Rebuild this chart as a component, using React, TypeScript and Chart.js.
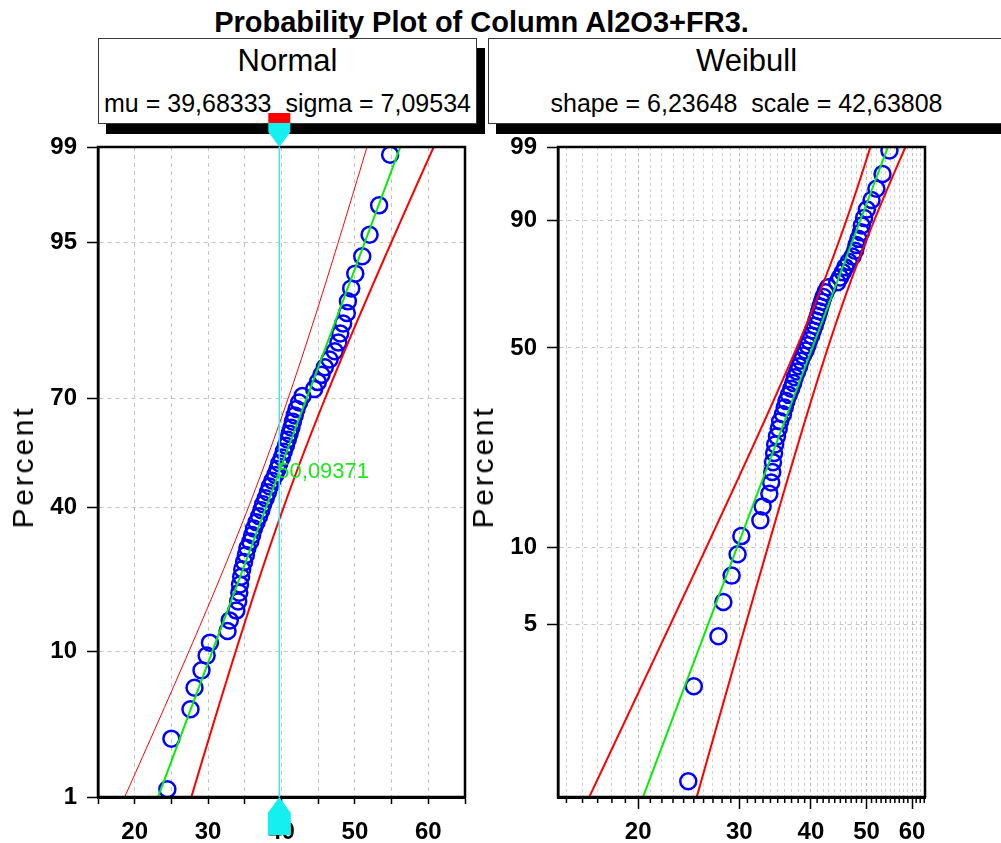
import React, { useEffect, useRef } from "react";
import { Chart, registerables } from "chart.js";

Chart.register(...registerables);

// ---------------- data ----------------
const chartTitle = "Probability Plot of Column Al2O3+FR3.";
const normalPanelTitle = "Normal";
const weibullPanelTitle = "Weibull";
const axisTitle = "Percent";

// sorted sample values
const sampleValues = [
  24.45, 25.0, 27.6, 28.15, 29.1, 29.8, 30.25, 32.65, 32.95, 33.85,
  34.1, 34.25, 34.35, 34.5, 34.65, 34.9, 35.15, 35.35, 35.75, 36.0,
  36.25, 36.6, 36.95, 37.25, 37.5, 37.85, 38.15, 38.4, 38.75, 39.15,
  39.45, 39.7, 40.05, 40.3, 40.6, 40.85, 41.1, 41.35, 41.55, 41.8,
  42.05, 42.4, 42.85, 44.45, 44.95, 45.45, 45.9, 46.55, 47.25, 47.75,
  48.0, 48.4, 48.9, 49.05, 49.5, 50.05, 51.0, 52.0, 53.3, 54.8,
];

const normalMu = 39.68333;
const normalSigma = 7.09534;
const weibullShape = 6.23648;
const weibullScale = 42.63808;
const confidenceK = 2.576; // two-sided 99 %
// asymptotic covariance factors of the extreme-value (log-Weibull) fit
const evVarLoc = 1.1087;
const evCovLocScale = -0.257;
const evVarScale = 0.6079;

const percentRange = [1, 99];
const normalYTickPercents = [1, 10, 40, 70, 95, 99];
const weibullYTickPercents = [5, 10, 50, 90, 99];
const normalXRange = [15, 65];
const normalXTicks = [15, 20, 25, 30, 35, 40, 45, 50, 55, 60, 65];
const weibullXRange = [14.5, 63.2];
const weibullXTicks = [
  15, 16, 17, 18, 19, 20, 21, 22, 23, 24, 25, 26, 27, 28, 29, 30, 31, 32, 33,
  34, 35, 36, 37, 38, 39, 40, 41, 42, 43, 44, 45, 46, 47, 48, 49, 50, 51, 52,
  53, 54, 55, 56, 57, 58, 59, 60, 61, 62, 63,
];
const xTickLabels = [20, 30, 40, 50, 60];

const cursorValue = 39.7;
const cursorPercent = 50.09371;
const cursorLabel = "50,09371";

// ---------------- helpers ----------------
const FONT = "'Liberation Sans', Arial, Helvetica, sans-serif";
const tickFont = { family: FONT, size: 24, weight: "bold" as const };

function normInv(p: number): number {
  const a = [-3.969683028665376e1, 2.209460984245205e2, -2.759285104469687e2, 1.38357751867269e2, -3.066479806614716e1, 2.506628277459239];
  const b = [-5.447609879822406e1, 1.615858368580409e2, -1.556989798598866e2, 6.680131188771972e1, -1.328068155288572e1];
  const c = [-7.784894002430293e-3, -3.223964580411365e-1, -2.400758277161838, -2.549732539343734, 4.374664141464968, 2.938163982698783];
  const d = [7.784695709041462e-3, 3.224671290700398e-1, 2.445134137142996, 3.754408661907416];
  const pl = 0.02425;
  if (p < pl) {
    const q = Math.sqrt(-2 * Math.log(p));
    return (((((c[0] * q + c[1]) * q + c[2]) * q + c[3]) * q + c[4]) * q + c[5]) / ((((d[0] * q + d[1]) * q + d[2]) * q + d[3]) * q + 1);
  }
  if (p > 1 - pl) {
    const q = Math.sqrt(-2 * Math.log(1 - p));
    return -(((((c[0] * q + c[1]) * q + c[2]) * q + c[3]) * q + c[4]) * q + c[5]) / ((((d[0] * q + d[1]) * q + d[2]) * q + d[3]) * q + 1);
  }
  const q = p - 0.5;
  const r = q * q;
  return ((((((a[0] * r + a[1]) * r + a[2]) * r + a[3]) * r + a[4]) * r + a[5]) * q) / (((((b[0] * r + b[1]) * r + b[2]) * r + b[3]) * r + b[4]) * r + 1);
}
const weibullW = (p: number) => Math.log(-Math.log(1 - p));
const medianRank = (i: number, n: number) => (i + 1 - 0.3) / (n + 0.4);
const samples = (a: number, b: number, k = 80) => Array.from({ length: k + 1 }, (_, j) => a + ((b - a) * j) / k);
const fmt = (v: number) => String(v).replace(".", ",");

const framePlugin = {
  id: "frame",
  afterDraw(chart: any) {
    const { ctx, chartArea: a } = chart;
    ctx.save();
    ctx.strokeStyle = "#000";
    ctx.lineWidth = 2.5;
    ctx.strokeRect(a.left, a.top, a.right - a.left, a.bottom - a.top);
    ctx.restore();
  },
};

const cursorPlugin = {
  id: "cursor",
  afterDraw(chart: any) {
    const { ctx, chartArea: a } = chart;
    const px = chart.scales.x.getPixelForValue(cursorValue);
    ctx.save();
    ctx.strokeStyle = "#3ee8e8";
    ctx.lineWidth = 1.5;
    ctx.beginPath();
    ctx.moveTo(px, a.top);
    ctx.lineTo(px, a.bottom);
    ctx.stroke();
    // top marker
    ctx.fillStyle = "#ff0000";
    ctx.fillRect(px - 11, a.top - 34, 22, 10);
    ctx.fillStyle = "#14f0f0";
    ctx.beginPath();
    ctx.moveTo(px - 11, a.top - 24);
    ctx.lineTo(px + 11, a.top - 24);
    ctx.lineTo(px + 11, a.top - 15);
    ctx.lineTo(px, a.top);
    ctx.lineTo(px - 11, a.top - 15);
    ctx.closePath();
    ctx.fill();
    // bottom marker
    ctx.beginPath();
    ctx.moveTo(px, a.bottom);
    ctx.lineTo(px + 11.5, a.bottom + 16);
    ctx.lineTo(px + 11.5, a.bottom + 38);
    ctx.lineTo(px - 11.5, a.bottom + 38);
    ctx.lineTo(px - 11.5, a.bottom + 16);
    ctx.closePath();
    ctx.fill();
    // label
    const py = chart.scales.y.getPixelForValue(normInv(cursorPercent / 100));
    ctx.font = `22px ${FONT}`;
    ctx.fillStyle = "#1ee61e";
    ctx.textAlign = "left";
    ctx.textBaseline = "middle";
    ctx.fillText(cursorLabel, px - 2, py);
    ctx.restore();
  },
};

const minorTickPlugin = {
  id: "minorTicks",
  afterDraw(chart: any) {
    const { ctx, chartArea: a } = chart;
    const xs = chart.scales.x;
    ctx.save();
    ctx.strokeStyle = "#000";
    ctx.lineWidth = 1.5;
    ctx.beginPath();
    weibullXTicks.forEach((v) => {
      if (xTickLabels.includes(v)) return;
      const px = xs.getPixelForValue(v);
      ctx.moveTo(px, a.bottom);
      ctx.lineTo(px, a.bottom + 6);
    });
    ctx.stroke();
    ctx.restore();
  },
};

const lineDs = (data: any[], color: string, width: number) => ({
  data,
  showLine: true,
  borderColor: color,
  borderWidth: width,
  pointRadius: 0,
  fill: false,
});
const pointDs = (data: any[]) => ({
  data,
  showLine: false,
  pointRadius: 8,
  pointBorderWidth: 2.5,
  borderWidth: 2.5,
  borderColor: "#0000ff",
  pointBorderColor: "#0000ff",
  backgroundColor: "rgba(0,0,0,0)",
  pointBackgroundColor: "rgba(0,0,0,0)",
  pointStyle: "circle",
});

function yScale(min: number, max: number, tickValues: number[], labels: number[], width: number) {
  return {
    type: "linear",
    min,
    max,
    afterBuildTicks: (s: any) => {
      s.ticks = tickValues.map((v) => ({ value: v }));
    },
    afterFit: (s: any) => {
      s.width = width;
    },
    ticks: {
      autoSkip: false,
      callback: (_v: any, i: number) => String(labels[i]),
      font: tickFont,
      color: "#000",
      padding: 10,
    },
    grid: { color: "#c4c4c4", lineWidth: 1, tickColor: "#000", tickLength: 11, tickWidth: 1.5 },
    border: { color: "#000", width: 2.5, dash: [4, 4] },
  };
}

function normalConfig(canvasWidth: number, plotRight: number) {
  const n = sampleValues.length;
  const zMin = normInv(percentRange[0] / 100);
  const zMax = normInv(percentRange[1] / 100);
  const half = (z: number) => confidenceK * normalSigma * Math.sqrt(1 / n + (z * z) / (2 * n));
  const zs = samples(zMin, zMax);
  const lower = zs.map((z) => ({ x: normalMu + normalSigma * z - half(z), y: z }));
  const upper = zs.map((z) => ({ x: normalMu + normalSigma * z + half(z), y: z }));
  const fit = [zMin, zMax].map((z) => ({ x: normalMu + normalSigma * z, y: z }));
  const pts = sampleValues.map((v, i) => ({ x: v, y: normInv(medianRank(i, n)) }));
  return {
    type: "scatter",
    data: {
      datasets: [lineDs(lower, "#ff0000", 1), lineDs(upper, "#ff0000", 2), lineDs(fit, "#00f000", 2), pointDs(pts)],
    },
    options: {
      animation: false,
      responsive: false,
      events: [],
      layout: { padding: { top: 147, right: canvasWidth - plotRight, left: 0, bottom: 0 } },
      plugins: { legend: { display: false }, tooltip: { enabled: false }, title: { display: false } },
      scales: {
        x: {
          type: "linear",
          min: normalXRange[0],
          max: normalXRange[1],
          afterBuildTicks: (s: any) => {
            s.ticks = normalXTicks.map((v) => ({ value: v }));
          },
          afterFit: (s: any) => {
            s.height = 46;
          },
          ticks: {
            autoSkip: false,
            minRotation: 0,
            maxRotation: 0,
            callback: (v: any) => (xTickLabels.includes(Number(v)) ? String(v) : ""),
            font: tickFont,
            color: "#000",
            padding: 14,
          },
          grid: { color: "#c4c4c4", lineWidth: 1, tickColor: "#000", tickLength: 7, tickWidth: 1.5 },
          border: { color: "#000", width: 3, dash: [4, 4] },
        },
        y: yScale(
          zMin,
          zMax,
          normalYTickPercents.map((p) => normInv(p / 100)),
          normalYTickPercents,
          98
        ),
      },
    },
    plugins: [framePlugin, cursorPlugin],
  };
}

function weibullConfig(plotLeft: number, canvasWidth: number, plotRight: number) {
  const n = sampleValues.length;
  const wMin = weibullW(percentRange[0] / 100);
  const wMax = weibullW(percentRange[1] / 100);
  const b = 1 / weibullShape;
  const half = (w: number) =>
    (confidenceK * b * Math.sqrt(evVarLoc + 2 * evCovLocScale * w + evVarScale * w * w)) / Math.sqrt(n);
  const ws = samples(wMin, wMax);
  const center = (w: number) => Math.log(weibullScale) + w * b;
  const lower = ws.map((w) => ({ x: Math.exp(center(w) - half(w)), y: w }));
  const upper = ws.map((w) => ({ x: Math.exp(center(w) + half(w)), y: w }));
  const fit = [wMin, wMax].map((w) => ({ x: Math.exp(center(w)), y: w }));
  const pts = sampleValues.map((v, i) => ({ x: v, y: weibullW(medianRank(i, n)) }));
  return {
    type: "scatter",
    data: {
      datasets: [lineDs(lower, "#ff0000", 2), lineDs(upper, "#ff0000", 2), lineDs(fit, "#00f000", 2), pointDs(pts)],
    },
    options: {
      animation: false,
      responsive: false,
      events: [],
      layout: { padding: { top: 147, right: canvasWidth - plotRight, left: 0, bottom: 0 } },
      plugins: { legend: { display: false }, tooltip: { enabled: false }, title: { display: false } },
      scales: {
        x: {
          type: "logarithmic",
          min: weibullXRange[0],
          max: weibullXRange[1],
          afterBuildTicks: (s: any) => {
            s.ticks = weibullXTicks.map((v) => ({ value: v }));
          },
          afterFit: (s: any) => {
            s.height = 46;
          },
          ticks: {
            autoSkip: false,
            minRotation: 0,
            maxRotation: 0,
            major: { enabled: false },
            callback: (v: any) => (xTickLabels.includes(Number(v)) ? String(v) : ""),
            font: tickFont,
            color: "#000",
            padding: 9,
          },
          grid: {
            color: (ctx: any) => (ctx.tick && xTickLabels.includes(ctx.tick.value) ? "#b8b8b8" : "#d2d2d2"),
            lineWidth: 1,
            tickColor: (ctx: any) => (ctx.tick && xTickLabels.includes(ctx.tick.value) ? "#000" : "rgba(0,0,0,0)"),
            tickLength: 12,
            tickWidth: 1.5,
          },
          border: { color: "#000", width: 3, dash: [3, 3] },
        },
        y: yScale(
          wMin,
          wMax,
          weibullYTickPercents.map((p) => weibullW(p / 100)),
          weibullYTickPercents,
          plotLeft
        ),
      },
    },
    plugins: [framePlugin, minorTickPlugin],
  };
}

// ---------------- layout ----------------
const PAGE_W = 1001;
const PAGE_H = 843;
const LEFT = { left: 0, width: 480, plotRight: 465 };
const RIGHT = { left: 470, width: 531, yAxisWidth: 88, plotRight: 455 };

function HeaderBox({ left, width, title, line }: { left: number; width: number; title: string; line: string }) {
  return (
    <div
      style={{
        position: "absolute",
        left,
        top: 38,
        width,
        height: 86,
        boxSizing: "border-box",
        border: "1px solid #3a3a3a",
        background: "#fff",
        boxShadow: "8px 10px 0 0 #000",
      }}
    >
      <div
        style={{
          position: "absolute",
          left: 0,
          right: 0,
          top: 5.8,
          textAlign: "center",
          font: `31px/31px ${FONT}`,
          color: "#000",
          whiteSpace: "pre",
        }}
      >
        {title}
      </div>
      <div
        style={{
          position: "absolute",
          left: 0,
          right: 0,
          top: 51.8,
          textAlign: "center",
          font: `25px/25px ${FONT}`,
          color: "#000",
          whiteSpace: "pre",
        }}
      >
        {line}
      </div>
    </div>
  );
}

function PercentLabel({ cx, cy }: { cx: number; cy: number }) {
  return (
    <div
      style={{
        position: "absolute",
        left: cx,
        top: cy,
        transform: "translate(-50%, -50%) rotate(-90deg)",
        font: `30px/30px ${FONT}`,
        letterSpacing: "2.8px",
        color: "#000",
        whiteSpace: "nowrap",
      }}
    >
      {axisTitle}
    </div>
  );
}

export default function App() {
  const leftRef = useRef<HTMLCanvasElement | null>(null);
  const rightRef = useRef<HTMLCanvasElement | null>(null);

  useEffect(() => {
    const c1 = new Chart(leftRef.current as any, normalConfig(LEFT.width, LEFT.plotRight) as any);
    const c2 = new Chart(
      rightRef.current as any,
      weibullConfig(RIGHT.yAxisWidth, RIGHT.width, RIGHT.plotRight) as any
    );
    return () => {
      c1.destroy();
      c2.destroy();
    };
  }, []);

  return (
    <div
      style={{
        position: "fixed",
        left: 0,
        top: 0,
        width: PAGE_W,
        height: PAGE_H,
        background: "#fff",
        overflow: "hidden",
      }}
    >
      <div
        style={{
          position: "absolute",
          left: 0,
          width: 963,
          top: 8,
          textAlign: "center",
          font: `bold 29px/29px ${FONT}`,
          color: "#000",
          whiteSpace: "nowrap",
        }}
      >
        {chartTitle}
      </div>
      <HeaderBox
        left={98}
        width={379}
        title={normalPanelTitle}
        line={`mu = ${fmt(normalMu)}  sigma = ${fmt(normalSigma)}`}
      />
      <HeaderBox
        left={488}
        width={517}
        title={weibullPanelTitle}
        line={`shape = ${fmt(weibullShape)}  scale = ${fmt(weibullScale)}`}
      />
      <canvas
        ref={leftRef}
        width={LEFT.width}
        height={PAGE_H}
        style={{ position: "absolute", left: LEFT.left, top: 0, width: LEFT.width, height: PAGE_H }}
      />
      <canvas
        ref={rightRef}
        width={RIGHT.width}
        height={PAGE_H}
        style={{ position: "absolute", left: RIGHT.left, top: 0, width: RIGHT.width, height: PAGE_H }}
      />
      <PercentLabel cx={22.5} cy={466.7} />
      <PercentLabel cx={483} cy={466.7} />
    </div>
  );
}
